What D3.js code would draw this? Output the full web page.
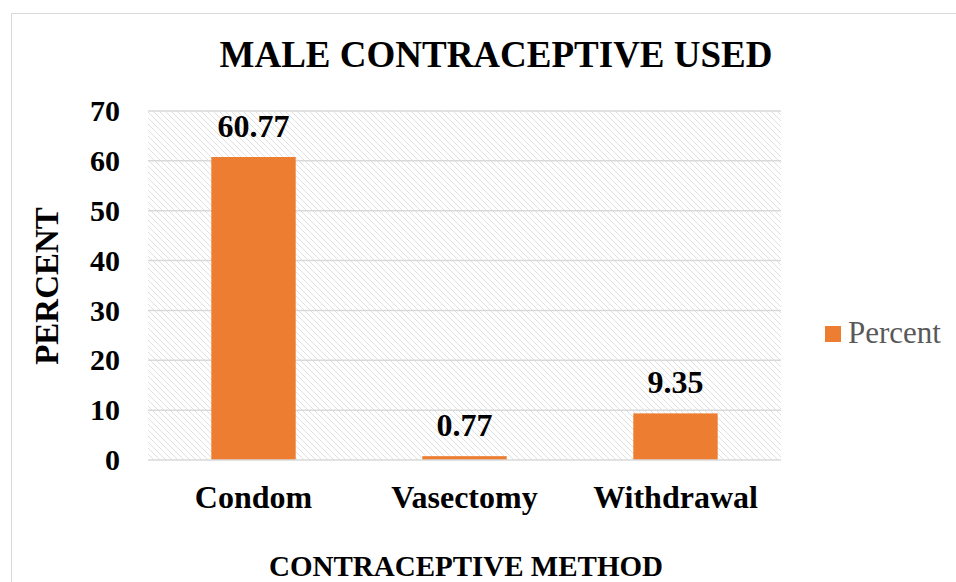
<!DOCTYPE html>
<html>
<head>
<meta charset="utf-8">
<script src="https://cdn.jsdelivr.net/npm/d3@7"></script>
<style>
  html, body { margin: 0; padding: 0; background: #fff; }
  svg { display: block; font-family: "Liberation Serif", "Times New Roman", serif; }
</style>
</head>
<body>
<svg id="chart" width="956" height="582"></svg>
<script>
// Male contraceptive methods and their share of use (%)
const categories = ["Condom", "Vasectomy", "Withdrawal"];
const percentValues = [60.77, 0.77, 9.35];
const yTicks = [0, 10, 20, 30, 40, 50, 60, 70];
const seriesName = "Percent";

const svg = d3.select("#chart");
const W = 956, H = 582;
const plot = { left: 148, right: 781, top: 111, bottom: 460 };
const orange = "#ed7d31";
const grid = "#d9d9d9";

// Outer chart frame
svg.append("rect")
  .attr("x", 11.5).attr("y", 13.5)
  .attr("width", W + 10).attr("height", H + 10)
  .attr("fill", "#fff").attr("stroke", grid).attr("stroke-width", 1);

// Diagonal hatch for the plot area
const defs = svg.append("defs");
const P = 6;
const pat = defs.append("pattern")
  .attr("id", "hatch").attr("patternUnits", "userSpaceOnUse")
  .attr("width", P).attr("height", P);
pat.append("path")
  .attr("d", `M-1,-1 L${P + 1},${P + 1} M-1,${P - 1} L1,${P + 1} M${P - 1},-1 L${P + 1},1`)
  .attr("stroke", "#dcdcdc").attr("stroke-width", 0.9);

const x = d3.scaleBand().domain(categories)
  .range([plot.left, plot.right]).paddingInner(0.6).paddingOuter(0.3);
const y = d3.scaleLinear().domain([0, 70]).range([plot.bottom, plot.top]);

svg.append("rect")
  .attr("x", plot.left).attr("y", plot.top)
  .attr("width", plot.right - plot.left).attr("height", plot.bottom - plot.top)
  .attr("fill", "url(#hatch)");

// Gridlines
svg.append("g").selectAll("line").data(yTicks.filter(d => d > 0)).join("line")
  .attr("x1", plot.left).attr("x2", plot.right)
  .attr("y1", d => y(d)).attr("y2", d => y(d))
  .attr("stroke", grid).attr("stroke-width", 1.5);

// Y axis tick labels
const yAxis = d3.axisLeft(y).tickValues(yTicks).tickSize(0).tickPadding(28);
const gy = svg.append("g").attr("transform", `translate(${plot.left},0)`).call(yAxis);
gy.select(".domain").remove();
gy.selectAll("text")
  .attr("font-family", "Liberation Serif, serif")
  .attr("font-size", 30).attr("font-weight", "bold").attr("fill", "#000");

// Bars
svg.append("g").selectAll("rect").data(categories).join("rect")
  .attr("x", d => x(d)).attr("width", x.bandwidth())
  .attr("y", (d, i) => y(percentValues[i]))
  .attr("height", (d, i) => y(0) - y(percentValues[i]))
  .attr("fill", orange);

// Baseline
svg.append("line")
  .attr("x1", plot.left).attr("x2", plot.right)
  .attr("y1", y(0)).attr("y2", y(0))
  .attr("stroke", grid).attr("stroke-width", 1.5);

// Value labels
svg.append("g").selectAll("text").data(categories).join("text")
  .attr("x", d => x(d) + x.bandwidth() / 2)
  .attr("y", (d, i) => y(percentValues[i]) - 20)
  .attr("text-anchor", "middle")
  .attr("font-size", 32).attr("font-weight", "bold").attr("fill", "#000")
  .text((d, i) => percentValues[i].toFixed(2));

// X axis category labels
const xAxis = d3.axisBottom(x).tickSize(0).tickPadding(25);
const gx = svg.append("g").attr("transform", `translate(0,${plot.bottom})`).call(xAxis);
gx.select(".domain").remove();
gx.selectAll("text")
  .attr("font-family", "Liberation Serif, serif")
  .attr("font-size", 32).attr("font-weight", "bold").attr("fill", "#000");

// Title
svg.append("text")
  .attr("x", 496).attr("y", 67).attr("text-anchor", "middle")
  .attr("font-size", 37).attr("font-weight", "bold").attr("fill", "#000")
  .text("MALE CONTRACEPTIVE USED");

// Axis titles
svg.append("text")
  .attr("transform", "translate(58,286) rotate(-90)")
  .attr("text-anchor", "middle")
  .attr("font-size", 33).attr("font-weight", "bold").attr("fill", "#000")
  .text("PERCENT");

svg.append("text")
  .attr("x", 466).attr("y", 576).attr("text-anchor", "middle")
  .attr("font-size", 29).attr("font-weight", "bold").attr("fill", "#000")
  .text("CONTRACEPTIVE METHOD");

// Legend
const lg = svg.append("g").attr("transform", "translate(825,326)");
lg.append("rect").attr("width", 16).attr("height", 16).attr("fill", orange);
lg.append("text").attr("x", 23).attr("y", 17)
  .attr("font-size", 31).attr("fill", "#595959")
  .text(seriesName);
</script>
</body>
</html>
